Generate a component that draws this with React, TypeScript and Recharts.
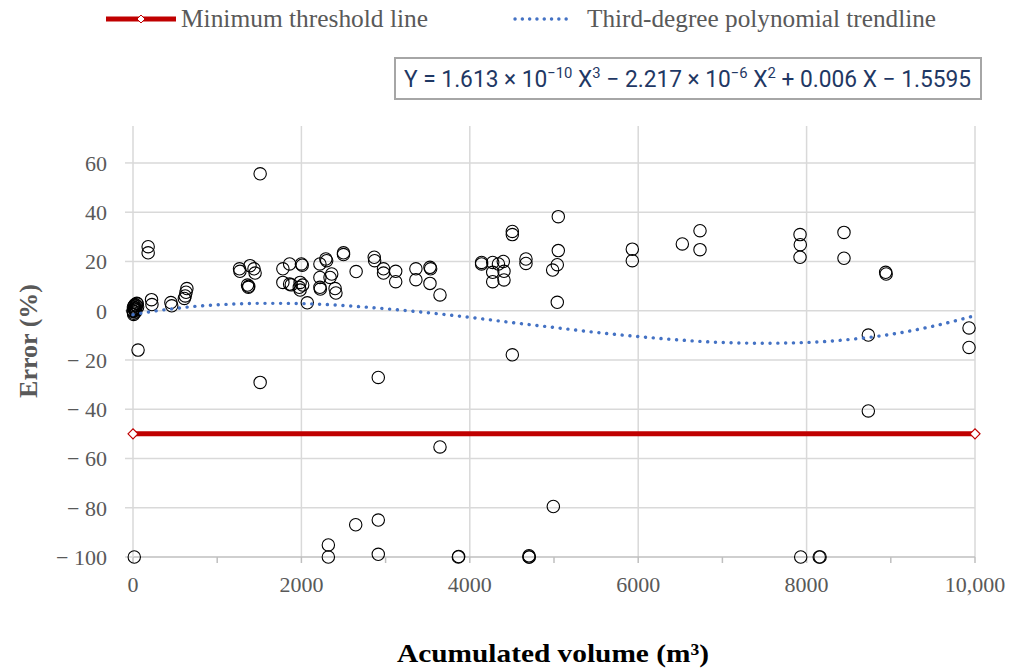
import React from 'react';
import { ScatterChart, Scatter, XAxis, YAxis, CartesianGrid } from 'recharts';

// Measured points: accumulated volume (m3) and error (%)
const volume = [
  0, 5, 10, 15, 20, 25, 30, 35, 40, 45, 55, 8, 12, 3, 18, 28, 50,
  60, 180, 180, 220, 225, 450, 460, 640, 630, 620, 610,
  1510, 1265, 1270, 1390, 1437, 1450, 1360, 1375, 1370, 1510,
  1780, 1860, 2000, 2010, 1780, 1860, 1880, 1985, 1975, 2015, 1985, 2070,
  2220, 2290, 2300, 2220, 2220, 2225, 2360, 2340, 2400, 2410, 2500, 2500,
  2650, 2865, 2870, 2975, 2975, 3120, 3120, 3360, 3360, 3527, 3535, 3527, 3646, 2913,
  4140, 4140, 4272, 4272, 4272, 4340, 4398, 4406, 4406, 4505, 4505, 4505, 4667, 4667,
  5051, 5051, 5039, 4984, 5039, 5930, 5930, 6524, 6734, 6734,
  7922, 7925, 7922, 8444, 8444, 8939, 8945, 8733, 8733, 9929, 9929,
  3646, 4992, 2645, 2913, 2320, 2320, 2913, 3864, 3868, 4703, 4703, 4706,
  7930, 8150, 8160, 15,
];
const errorPct = [
  0, 1.5, -1, 2, 0.5, 2.5, -0.5, 1, 2, 3, 1.5, -1.5, 0.8, -0.3, 1.2, 0.2, 2.8,
  -16, 26, 23.5, 4.5, 2.5, 3.3, 2, 9, 7.5, 6, 5,
  55.6, 17, 16, 18.3, 17, 15.3, 10.4, 9.9, 9.5, -29.1,
  17, 19, 19, 18.5, 11.5, 10.8, 10.5, 11.5, 9.5, 10.4, 8.4, 3.2,
  19, 21, 20.3, 13.5, 9.5, 8.8, 14.9, 13.5, 9, 7.2, 23.5, 22.8,
  15.9, 21.7, 20.3, 17, 15.3, 16, 11.8, 17, 12.6, 17.6, 17, 11.1, 6.4, -27.1,
  19.6, 19, 19.6, 15.6, 11.8, 19, 20, 16, 12.5, 32.2, 30.9, -17.9, 21, 19.2,
  38.2, 24.4, 18.7, 16.5, 3.4, 25, 20.3, 27.1, 32.5, 24.8,
  30.9, 26.8, 21.7, 31.8, 21.3, 15.6, 14.9, -9.9, -40.7, -7, -14.9,
  -55.3, -79.5, -86.9, -85, -95.1, -100, -98.9, -100, -99.8, -100, -99.5, -100,
  -100, -100, -100, -100,
];

// Trendline
const trendVolume = [0, 250, 500, 750, 1000, 1250, 1500, 1750, 2000, 2250, 2500, 2750, 3000, 3500, 4000, 4500, 5000, 5500, 6000, 6500, 7000, 7500, 8000, 8500, 9000, 9500, 10000];
const trendError = [-1.6, -0.2, 0.9, 1.8, 2.4, 2.8, 3.0, 3.0, 2.9, 2.6, 2.1, 1.5, 0.8, -0.8, -2.7, -4.8, -6.8, -8.8, -10.5, -11.9, -12.9, -13.2, -12.9, -11.7, -9.6, -6.3, -2.0];

// Minimum threshold line
const thresholdVolume = [0, 10000];
const thresholdError = [-50, -50];

const yTicks = [-100, -80, -60, -40, -20, 0, 20, 40, 60];
const xTicks = [0, 1000, 2000, 3000, 4000, 5000, 6000, 7000, 8000, 9000, 10000];
const xGrid = [2000, 4000, 6000, 8000, 10000];
const yGrid = [-80, -60, -40, -20, 0, 20, 40, 60];

const points = volume.map((x, i) => ({ x, y: errorPct[i] }));
const trend = trendVolume.map((x, i) => ({ x, y: trendError[i] }));
const threshold = thresholdVolume.map((x, i) => ({ x, y: thresholdError[i] }));

const SERIF = '"Liberation Serif", "Times New Roman", serif';
const GRID = '#d9d9d9';

const Circle = (p: any) => (
  <circle cx={p.cx} cy={p.cy} r={6.2} fill="none" stroke="#000" strokeWidth={1.1} />
);
const NoShape = () => <g />;
const Diamond = (p: any) => {
  const s = 5;
  return (
    <polygon
      points={`${p.cx - s},${p.cy} ${p.cx},${p.cy - s} ${p.cx + s},${p.cy} ${p.cx},${p.cy + s}`}
      fill="#fff"
      stroke="#c00000"
      strokeWidth={1.2}
    />
  );
};

const fmtY = (v: number) => (v < 0 ? `\u2212 ${Math.abs(v)}` : `${v}`);
const fmtX = (v: number) => (v % 2000 !== 0 ? '' : v === 10000 ? '10,000' : `${v}`);

export default function App() {
  return (
    <div
      style={{
        position: 'absolute',
        left: 0,
        top: 0,
        width: 1018,
        height: 668,
        overflow: 'hidden',
        background: '#fff',
      }}
    >
      <ScatterChart
        width={1018}
        height={668}
        margin={{ top: 126, right: 43, bottom: 51, left: 33 }}
      >
        <CartesianGrid
          stroke={GRID}
          strokeWidth={1.5}
          horizontalValues={yGrid}
          verticalValues={xGrid}
        />
        <XAxis
          type="number"
          dataKey="x"
          domain={[0, 10000]}
          ticks={xTicks}
          interval={0}
          tickFormatter={fmtX}
          tickSize={6}
          tickMargin={13}
          height={60}
          axisLine={{ stroke: '#bfbfbf', strokeWidth: 1.5 }}
          tickLine={{ stroke: '#bfbfbf', strokeWidth: 1.5 }}
          tick={{ fill: '#595959', fontSize: 22, fontFamily: SERIF }}
        />
        <YAxis
          type="number"
          dataKey="y"
          domain={[-100, 75]}
          ticks={yTicks}
          interval={0}
          tickFormatter={fmtY}
          tickSize={8}
          tickMargin={18}
          width={100}
          axisLine={{ stroke: GRID, strokeWidth: 1.5 }}
          tickLine={{ stroke: GRID, strokeWidth: 1.5 }}
          tick={{ fill: '#595959', fontSize: 22, fontFamily: SERIF }}
        />
        <Scatter data={points} shape={Circle} isAnimationActive={false} />
        <Scatter
          data={trend}
          shape={NoShape}
          line={{ stroke: '#4472c4', strokeWidth: 3.4, strokeDasharray: '0.1 7.7', strokeLinecap: 'round' }}
          lineJointType="monotoneX"
          isAnimationActive={false}
        />
        <Scatter
          data={threshold}
          shape={Diamond}
          line={{ stroke: '#c00000', strokeWidth: 5 }}
          isAnimationActive={false}
        />
      </ScatterChart>
      <svg
        width={1018}
        height={668}
        style={{ position: 'absolute', left: 0, top: 0, pointerEvents: 'none' }}
      >
        {/* Legend */}
        <line x1={106} y1={19} x2={176} y2={19} stroke="#c00000" strokeWidth={5} />
        <polygon points="137,19 141,15 145,19 141,23" fill="#fff" stroke="#c00000" strokeWidth={1} />
        <text x={181} y={27} fontFamily={SERIF} fontSize={25} fill="#595959" textLength={247} lengthAdjust="spacingAndGlyphs">
          Minimum threshold line
        </text>
        <line x1={515} y1={19} x2={572} y2={19} stroke="#4472c4" strokeWidth={3.4} strokeDasharray="0.1 7.2" strokeLinecap="round" />
        <text x={587} y={27} fontFamily={SERIF} fontSize={25} fill="#595959" textLength={349} lengthAdjust="spacingAndGlyphs">
          Third-degree polynomial trendline
        </text>
        {/* Equation box */}
        <rect x={395} y={58} width={586} height={41} fill="#fff" stroke="#a6a6a6" strokeWidth={2} />
        <text
          x={404}
          y={87}
          fontFamily='"Liberation Sans Narrow", "Roboto", "Liberation Sans", sans-serif'
          fontSize={23}
          fill="#1f3864"
          textLength={567}
          lengthAdjust="spacingAndGlyphs"
        >
          Y = 1.613 × 10<tspan dy={-9} fontSize={15}>−10</tspan><tspan dy={9}> X</tspan>
          <tspan dy={-9} fontSize={15}>3</tspan><tspan dy={9}> − 2.217 × 10</tspan>
          <tspan dy={-9} fontSize={15}>−6</tspan><tspan dy={9}> X</tspan>
          <tspan dy={-9} fontSize={15}>2</tspan><tspan dy={9}> + 0.006 X − 1.5595</tspan>
        </text>
        {/* Axis titles */}
        <text
          x={0}
          y={0}
          transform="translate(37,341) rotate(-90)"
          textAnchor="middle"
          fontFamily={SERIF}
          fontWeight="bold"
          fontSize={26}
          fill="#595959"
          textLength={114}
          lengthAdjust="spacingAndGlyphs"
        >
          Error (%)
        </text>
        <text
          x={397}
          y={662}
          fontFamily={SERIF}
          fontWeight="bold"
          fontSize={26}
          fill="#000"
          textLength={312}
          lengthAdjust="spacingAndGlyphs"
        >
          Acumulated volume (m³)
        </text>
      </svg>
    </div>
  );
}
